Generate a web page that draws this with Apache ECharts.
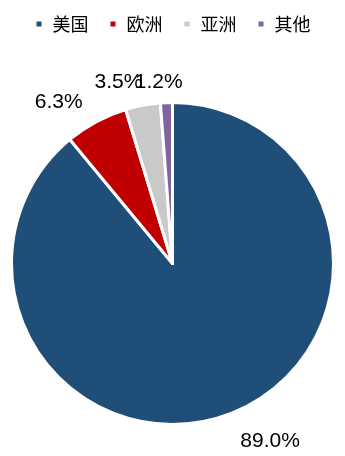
<!DOCTYPE html>
<html><head><meta charset="utf-8">
<script src="https://cdn.jsdelivr.net/npm/echarts@6/dist/echarts.min.js"></script>
<style>html,body{margin:0;padding:0;background:#fff}#c{width:345px;height:456px}</style>
</head><body><div id="c"></div>
<script>
var categories = ['美国', '欧洲', '亚洲', '其他'];
var values = [89.0, 6.3, 3.5, 1.2];
var colors = ['#1F4E79', '#C00000', '#C9C9C9', '#8064A2'];
var labelShift = [[32, 9], [-24, -4], [-16, -5], [-2, -2]];

var chart = echarts.init(document.getElementById('c'), null, {renderer: 'canvas'});
chart.setOption({
  animation: false,
  color: colors,
  legend: {
    data: categories,
    top: 10,
    left: 'center',
    icon: 'rect',
    itemWidth: 7,
    itemHeight: 7,
    itemGap: 20,
    textStyle: {fontFamily: 'Noto Sans CJK SC', fontSize: 18, color: '#000', padding: [0, 0, 0, 5]}
  },
  series: [{
    type: 'pie',
    center: [172.5, 263.5],
    radius: 161,
    startAngle: 90,
    clockwise: true,
    avoidLabelOverlap: false,
    itemStyle: {borderColor: '#fff', borderWidth: 3},
    label: {
      show: true,
      position: 'outside',
      formatter: function (p) { return p.value.toFixed(1) + '%'; },
      fontFamily: 'Arial, Liberation Sans',
      fontSize: 21,
      color: '#000'
    },
    labelLine: {show: false, length: 18, length2: 0},
    labelLayout: function (p) {
      var s = labelShift[p.dataIndex];
      return {align: 'center', verticalAlign: 'middle', dx: s[0], dy: s[1]};
    },
    data: categories.map(function (c, i) { return {name: c, value: values[i]}; })
  }]
});
</script></body></html>
